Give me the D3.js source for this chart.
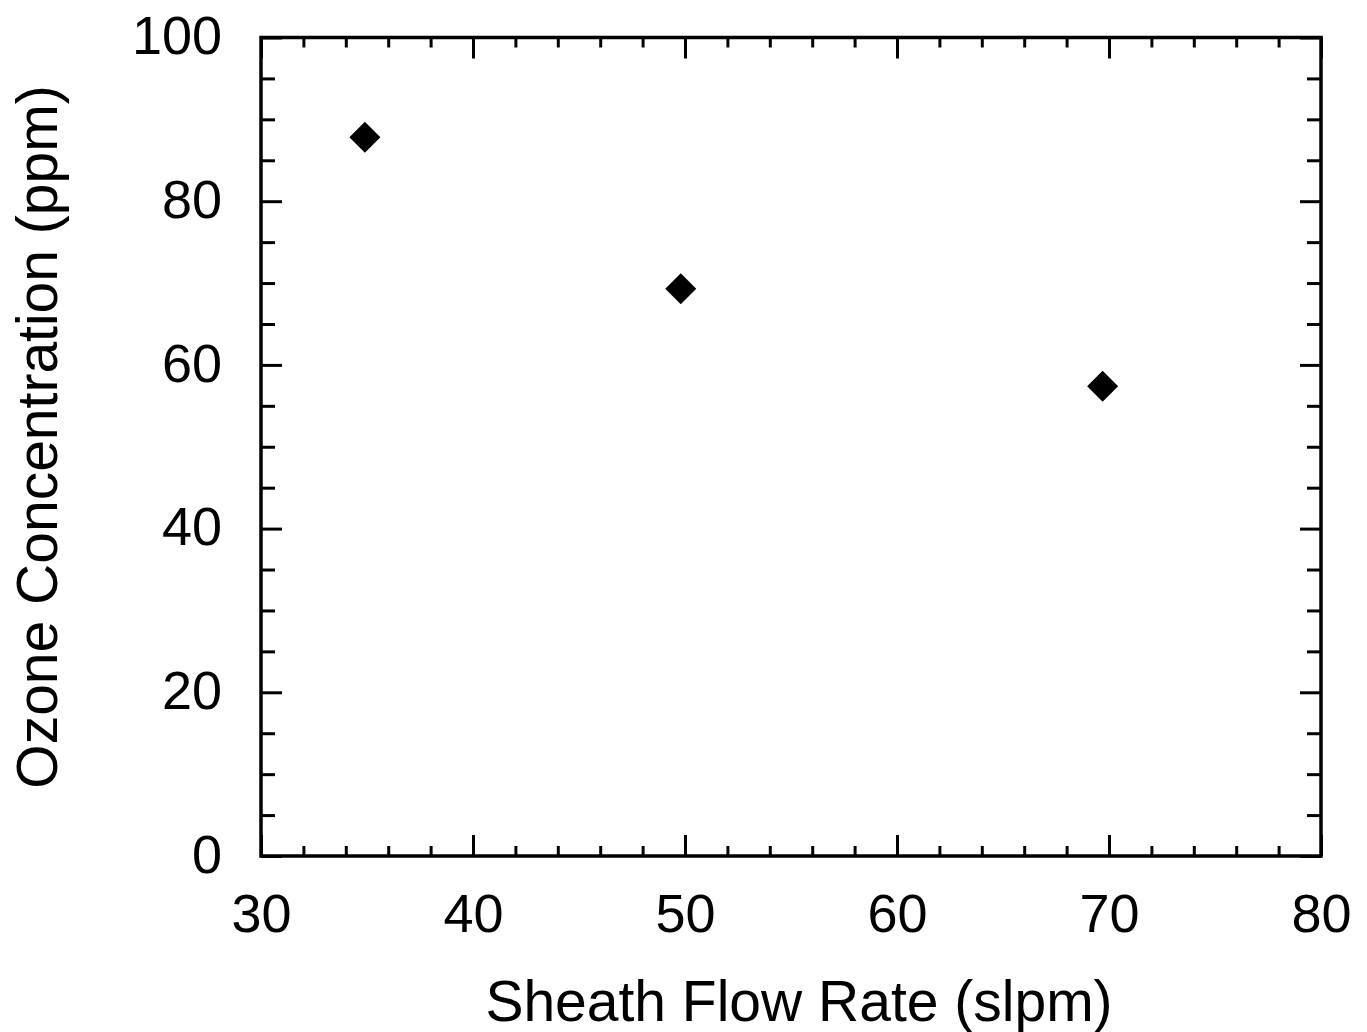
<!DOCTYPE html>
<html><head><meta charset="utf-8">
<script src="https://cdn.jsdelivr.net/npm/d3@7"></script>
<style>html,body{margin:0;padding:0;background:#fff;}svg{display:block;}</style>
</head><body>
<svg id="chart" width="1367" height="1032"></svg>
<script>
const flowRate = [34.9, 49.8, 69.7];
const ozone = [87.8, 69.3, 57.4];
const xMajorTicks = [30, 40, 50, 60, 70, 80];
const yMajorTicks = [0, 20, 40, 60, 80, 100];
const xTitle = "Sheath Flow Rate (slpm)";
const yTitle = "Ozone Concentration (ppm)";

const svg = d3.select("#chart");
const L = 261, R = 1321, T = 37.5, B = 856;
const x = d3.scaleLinear().domain([30, 80]).range([L, R]);
const y = d3.scaleLinear().domain([0, 100]).range([B, T]);
const font = "'Liberation Sans', Arial, sans-serif";

const xMinor = d3.range(30, 80.01, 2).filter(v => v % 10 !== 0);
const yMinor = d3.range(0, 100.01, 5).filter(v => v % 20 !== 0);

function styleAxis(g) {
  g.select(".domain").remove();
  g.selectAll(".tick line").attr("stroke", "#000").attr("stroke-width", 3);
}
// bottom
svg.append("g").attr("transform", `translate(0,${B})`)
  .call(d3.axisBottom(x).tickValues(xMajorTicks).tickSize(-21).tickPadding(76).tickFormat(d3.format("d")))
  .call(styleAxis)
  .call(g => g.selectAll("text").attr("font-family", font).attr("font-size", 54).attr("fill", "#000").attr("dy", "0"));
svg.append("g").attr("transform", `translate(0,${B})`)
  .call(d3.axisBottom(x).tickValues(xMinor).tickSize(-10).tickFormat(""))
  .call(styleAxis);
// top
svg.append("g").attr("transform", `translate(0,${T})`)
  .call(d3.axisTop(x).tickValues(xMajorTicks).tickSize(-21).tickFormat(""))
  .call(styleAxis);
svg.append("g").attr("transform", `translate(0,${T})`)
  .call(d3.axisTop(x).tickValues(xMinor).tickSize(-10).tickFormat(""))
  .call(styleAxis);
// left
svg.append("g").attr("transform", `translate(${L},0)`)
  .call(d3.axisLeft(y).tickValues(yMajorTicks).tickSize(-21).tickPadding(39).tickFormat(d3.format("d")))
  .call(styleAxis)
  .call(g => g.selectAll("text").attr("font-family", font).attr("font-size", 54).attr("fill", "#000").attr("dy", "0.3em"));
svg.append("g").attr("transform", `translate(${L},0)`)
  .call(d3.axisLeft(y).tickValues(yMinor).tickSize(-14).tickFormat(""))
  .call(styleAxis);
// right
svg.append("g").attr("transform", `translate(${R},0)`)
  .call(d3.axisRight(y).tickValues(yMajorTicks).tickSize(-21).tickFormat(""))
  .call(styleAxis);
svg.append("g").attr("transform", `translate(${R},0)`)
  .call(d3.axisRight(y).tickValues(yMinor).tickSize(-14).tickFormat(""))
  .call(styleAxis);

// frame
svg.append("rect").attr("x", L).attr("y", T).attr("width", R - L).attr("height", B - T)
  .attr("fill", "none").attr("stroke", "#000").attr("stroke-width", 3.5);

// points
const sym = d3.symbol().type(d3.symbolSquare).size(480);
svg.append("g").selectAll("path").data(flowRate).join("path")
  .attr("d", sym)
  .attr("transform", (d, i) => `translate(${x(d)},${y(ozone[i])}) rotate(45)`)
  .attr("fill", "#000");

// titles
svg.append("text").attr("x", (L + R) / 2 + 8).attr("y", 1021)
  .attr("text-anchor", "middle").attr("font-family", font).attr("font-size", 57).attr("fill", "#000")
  .text(xTitle);
svg.append("text").attr("transform", `translate(57,${437}) rotate(-90)`)
  .attr("text-anchor", "middle").attr("font-family", font).attr("font-size", 57).attr("fill", "#000")
  .text(yTitle);
</script>
</body></html>
